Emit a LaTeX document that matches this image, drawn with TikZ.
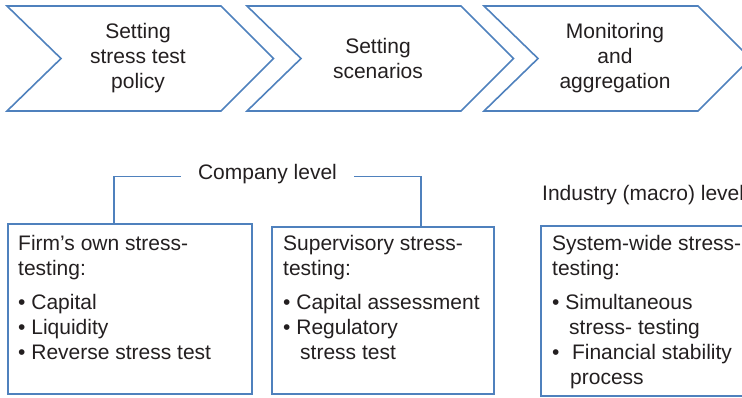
\documentclass[tikz,border=0pt]{standalone}
\usepackage{fontspec}
\setmainfont{Liberation Sans}
\usetikzlibrary{positioning}
\definecolor{lineblue}{RGB}{79,129,189}
\definecolor{inkgray}{RGB}{35,31,32}

\begin{document}
\begin{tikzpicture}[x=1pt,y=-1pt,
    every node/.style={font=\fontsize{21}{25}\selectfont, text=inkgray, inner sep=0pt},
    blueline/.style={draw=lineblue, line width=1.6pt},
    levelbox/.style={blueline, anchor=north west},
    boxtext/.style={anchor=north west, align=left},
    steptext/.style={align=center}]
  \useasboundingbox (0,0) rectangle (742,397);
  \clip (0,0) rectangle (742,397);
  % process steps
  \foreach \x/\n/\t in {7/policy/{Setting\\stress test\\policy},
                        247/scen/{Setting\\scenarios},
                        484/monitor/{Monitoring\\and\\aggregation}}
  {
    \draw[blueline] (\x,6) -- ++(214,0) -- ++(52.5,52.5) -- ++(-52.5,52.5)
      -- ++(-214,0) -- ++(54,-52.5) -- cycle;
    \node[steptext] (\n) at (\x+131,58) {\t};
  }
  % levels
  \node[levelbox, minimum width=244pt, minimum height=170pt] (firm) at (7,223) {};
  \node[levelbox, minimum width=222pt, minimum height=167pt] (super) at (271,226) {};
  \node[levelbox, minimum width=244pt, minimum height=170pt] (system) at (540,225) {};
  \node[boxtext] (firmtxt) at (18,235)
    {Firm’s own stress-\\testing:\\[9pt]• Capital\\• Liquidity\\• Reverse stress test};
  \node[boxtext] (supertxt) at (283,235)
    {Supervisory stress-\\testing:\\[9pt]• Capital assessment\\• Regulatory\\\hspace*{17pt}stress test};
  \node[boxtext] (systemtxt) at (552,235)
    {System-wide stress-\\testing:\\[9pt]• Simultaneous\\\hspace*{17pt}stress- testing\\•\hspace*{12.5pt}Financial stability\\\hspace*{18pt}process};
  \node[anchor=mid, inner xsep=17pt] (company) at (267.5,176.5) {Company level};
  \node[anchor=base west] (industry) at (542,200) {Industry (macro) level};
  \draw[blueline] ([xshift=-16pt]firm.north) |- (company.mid west);
  \draw[blueline] (company.mid east) -| ([xshift=38pt]super.north);
\end{tikzpicture}
\end{document}
